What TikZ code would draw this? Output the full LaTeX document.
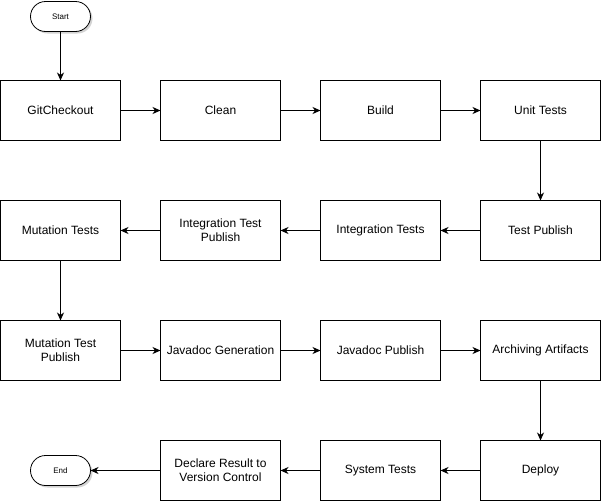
\documentclass[tikz,border=0pt]{standalone}
\usepackage{fontspec}
\setmainfont{Liberation Sans}
\usetikzlibrary{arrows.meta,shapes,positioning,shadows}
\tikzset{
    stage/.style={
        rectangle,
        draw=black,
        line width=1pt,
        outer sep=0pt,
        minimum width=120pt,
        minimum height=60pt,
        align=center,
        font=\fontsize{12}{14}\selectfont,
    },
    term/.style={
        rectangle,
        rounded corners=15pt,
        draw=black,
        fill=white,
        line width=0.8pt,
        outer sep=0pt,
        minimum width=60pt,
        minimum height=30pt,
        font=\fontsize{8}{10}\selectfont,
        drop shadow={shadow xshift=2pt,shadow yshift=-2pt,opacity=0.35},
    },
    every edge/.style={
        draw,
        -{Stealth[length=8pt,width=7pt,inset=2.5pt]},
        line width=1pt
    },
    node distance=40pt,
  }

\begin{document}
\begin{tikzpicture}
              \useasboundingbox (-0.5pt,0.5pt) rectangle (600.5pt,-500.5pt);
              \node [term] (start) at (60pt,-16pt) {Start};
              \node [stage, below=49pt of start] (gitco) {GitCheckout};
              \node [stage, right=of gitco] (clean) {Clean};
              \node [stage, right=of clean] (build) {Build};
              \node [stage, right=of build] (unit) {Unit Tests};

              \node [stage, below=60pt of unit] (testpub) {Test Publish};
              \node [stage, left=of testpub] (integ) {Integration Tests};
              \node [stage, left=of integ] (integpub) {Integration Test\\Publish};
              \node [stage, left=of integpub] (mut) {Mutation Tests};

              \node [stage, below=60pt of mut] (mutpub) {Mutation Test\\Publish};
              \node [stage, right=of mutpub] (jdgen) {Javadoc Generation};
              \node [stage, right=of jdgen] (jdpub) {Javadoc Publish};
              \node [stage, right=of jdpub] (archive) {Archiving Artifacts};

              \node [stage, below=60pt of archive] (deploy) {Deploy};
              \node [stage, left=of deploy] (systest) {System Tests};
              \node [stage, left=of systest] (declare) {Declare Result to\\Version Control};
              \node [term, left=70pt of declare] (finish) {End};

              \draw (start) edge (gitco);
              \draw (gitco) edge (clean);
              \draw (clean) edge (build);
              \draw (build) edge (unit);
              \draw (unit) edge (testpub);
              \draw (testpub) edge (integ);
              \draw (integ) edge (integpub);
              \draw (integpub) edge (mut);
              \draw (mut) edge (mutpub);
              \draw (mutpub) edge (jdgen);
              \draw (jdgen) edge (jdpub);
              \draw (jdpub) edge (archive);
              \draw (archive) edge (deploy);
              \draw (deploy) edge (systest);
              \draw (systest) edge (declare);
              \draw (declare) edge (finish);
            \end{tikzpicture}
\end{document}
